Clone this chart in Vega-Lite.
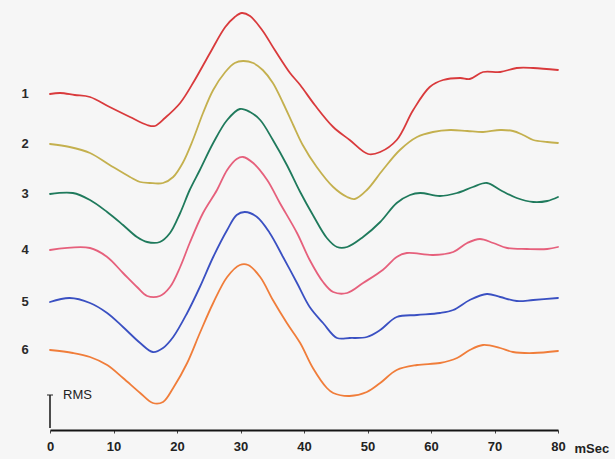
{
  "$schema": "https://vega.github.io/schema/vega-lite/v6.json",
  "autosize": {"type": "none"},
  "width": 508,
  "height": 430,
  "padding": {"left": 50, "right": 57, "top": 0, "bottom": 29},
  "background": "#f6f6f6",
  "config": {"view": {"stroke": null}, "font": "Liberation Sans"},
  "datasets": {
    "traces": [
      {"series":"1","t":0,"v":33.6},{"series":"1","t":1.6,"v":33.7},{"series":"1","t":3.9,"v":33.5},{"series":"1","t":6.3,"v":33.3},{"series":"1","t":9.4,"v":32.3},{"series":"1","t":12.6,"v":31.3},{"series":"1","t":15.3,"v":30.5},{"series":"1","t":16.5,"v":30.4},{"series":"1","t":18.1,"v":31.2},{"series":"1","t":20.5,"v":32.7},{"series":"1","t":22.8,"v":35.0},{"series":"1","t":25.2,"v":37.7},{"series":"1","t":27.6,"v":40.3},{"series":"1","t":29.1,"v":41.3},{"series":"1","t":30.2,"v":41.7},{"series":"1","t":31.5,"v":41.4},{"series":"1","t":33.4,"v":40.0},{"series":"1","t":35.4,"v":38.0},{"series":"1","t":37.8,"v":35.7},{"series":"1","t":39.4,"v":34.5},{"series":"1","t":41.7,"v":32.5},{"series":"1","t":44.6,"v":30.3},{"series":"1","t":47.2,"v":29.0},{"series":"1","t":50.1,"v":27.6},{"series":"1","t":52.0,"v":27.8},{"series":"1","t":54.6,"v":29.0},{"series":"1","t":57.2,"v":32.0},{"series":"1","t":59.8,"v":34.3},{"series":"1","t":61.9,"v":35.0},{"series":"1","t":64.6,"v":35.2},{"series":"1","t":66.1,"v":35.1},{"series":"1","t":68.2,"v":35.8},{"series":"1","t":70.9,"v":35.8},{"series":"1","t":73.5,"v":36.2},{"series":"1","t":76.1,"v":36.2},{"series":"1","t":80,"v":36.0},
      {"series":"2","t":0,"v":28.6},{"series":"2","t":3.1,"v":28.3},{"series":"2","t":6.3,"v":27.7},{"series":"2","t":9.4,"v":26.5},{"series":"2","t":12.6,"v":25.3},{"series":"2","t":14.2,"v":24.8},{"series":"2","t":15.7,"v":24.7},{"series":"2","t":17.8,"v":24.7},{"series":"2","t":19.4,"v":25.3},{"series":"2","t":20.9,"v":26.7},{"series":"2","t":22.5,"v":29.0},{"series":"2","t":24.1,"v":31.7},{"series":"2","t":25.7,"v":34.0},{"series":"2","t":27.6,"v":35.8},{"series":"2","t":29.1,"v":36.7},{"series":"2","t":30.4,"v":36.9},{"series":"2","t":32.0,"v":36.7},{"series":"2","t":33.5,"v":36.0},{"series":"2","t":35.1,"v":34.7},{"series":"2","t":36.7,"v":32.7},{"series":"2","t":38.3,"v":30.5},{"series":"2","t":39.8,"v":28.5},{"series":"2","t":42.0,"v":26.3},{"series":"2","t":44.6,"v":24.3},{"series":"2","t":46.8,"v":23.3},{"series":"2","t":48.0,"v":23.1},{"series":"2","t":49.9,"v":24.0},{"series":"2","t":52.4,"v":26.0},{"series":"2","t":55.1,"v":28.0},{"series":"2","t":57.8,"v":29.3},{"series":"2","t":60.3,"v":29.8},{"series":"2","t":63.0,"v":30.0},{"series":"2","t":65.7,"v":29.9},{"series":"2","t":68.2,"v":29.8},{"series":"2","t":70.9,"v":30.0},{"series":"2","t":72.9,"v":29.9},{"series":"2","t":74.5,"v":29.5},{"series":"2","t":76.1,"v":29.0},{"series":"2","t":78.3,"v":28.8},{"series":"2","t":80,"v":28.7},
      {"series":"3","t":0,"v":23.6},{"series":"3","t":3.6,"v":23.7},{"series":"3","t":6.3,"v":23.0},{"series":"3","t":9.0,"v":21.8},{"series":"3","t":11.5,"v":20.5},{"series":"3","t":13.7,"v":19.3},{"series":"3","t":15.3,"v":18.8},{"series":"3","t":17.3,"v":18.8},{"series":"3","t":18.9,"v":19.7},{"series":"3","t":20.5,"v":21.7},{"series":"3","t":22.0,"v":24.0},{"series":"3","t":23.6,"v":26.0},{"series":"3","t":25.7,"v":28.7},{"series":"3","t":27.9,"v":31.0},{"series":"3","t":29.9,"v":32.1},{"series":"3","t":31.5,"v":31.8},{"series":"3","t":33.1,"v":31.0},{"series":"3","t":35.1,"v":29.0},{"series":"3","t":37.3,"v":26.5},{"series":"3","t":39.4,"v":23.8},{"series":"3","t":41.4,"v":21.5},{"series":"3","t":43.6,"v":19.2},{"series":"3","t":45.2,"v":18.3},{"series":"3","t":46.8,"v":18.3},{"series":"3","t":49.3,"v":19.3},{"series":"3","t":52.0,"v":20.8},{"series":"3","t":54.6,"v":22.7},{"series":"3","t":56.7,"v":23.5},{"series":"3","t":58.3,"v":23.7},{"series":"3","t":61.4,"v":23.4},{"series":"3","t":64.1,"v":23.7},{"series":"3","t":66.6,"v":24.3},{"series":"3","t":68.8,"v":24.7},{"series":"3","t":70.9,"v":24.0},{"series":"3","t":73.5,"v":23.2},{"series":"3","t":76.1,"v":22.8},{"series":"3","t":78.3,"v":22.9},{"series":"3","t":80,"v":23.3},
      {"series":"4","t":0,"v":18.0},{"series":"4","t":6.3,"v":18.2},{"series":"4","t":9.0,"v":17.3},{"series":"4","t":11.5,"v":15.7},{"series":"4","t":13.7,"v":14.3},{"series":"4","t":15.3,"v":13.4},{"series":"4","t":17.3,"v":13.4},{"series":"4","t":18.9,"v":14.3},{"series":"4","t":20.5,"v":16.3},{"series":"4","t":22.0,"v":18.7},{"series":"4","t":24.1,"v":21.7},{"series":"4","t":26.3,"v":24.0},{"series":"4","t":27.9,"v":26.0},{"series":"4","t":29.4,"v":27.1},{"series":"4","t":30.4,"v":27.3},{"series":"4","t":32.0,"v":26.7},{"series":"4","t":34.2,"v":25.0},{"series":"4","t":36.2,"v":22.7},{"series":"4","t":38.9,"v":19.7},{"series":"4","t":40.9,"v":17.0},{"series":"4","t":43.0,"v":14.8},{"series":"4","t":44.6,"v":13.8},{"series":"4","t":46.8,"v":13.7},{"series":"4","t":49.3,"v":14.7},{"series":"4","t":52.4,"v":16.0},{"series":"4","t":54.6,"v":17.3},{"series":"4","t":56.2,"v":17.7},{"series":"4","t":60.3,"v":17.5},{"series":"4","t":63.5,"v":17.8},{"series":"4","t":65.7,"v":18.7},{"series":"4","t":67.7,"v":19.1},{"series":"4","t":69.8,"v":18.7},{"series":"4","t":72.0,"v":18.2},{"series":"4","t":75.1,"v":18.1},{"series":"4","t":78.3,"v":18.1},{"series":"4","t":80,"v":18.3},
      {"series":"5","t":0,"v":12.8},{"series":"5","t":3.1,"v":13.2},{"series":"5","t":6.3,"v":12.7},{"series":"5","t":9.0,"v":11.7},{"series":"5","t":11.5,"v":10.3},{"series":"5","t":14.2,"v":8.7},{"series":"5","t":16.2,"v":7.8},{"series":"5","t":17.8,"v":8.2},{"series":"5","t":19.4,"v":9.3},{"series":"5","t":21.6,"v":11.7},{"series":"5","t":23.6,"v":14.3},{"series":"5","t":25.7,"v":17.3},{"series":"5","t":27.9,"v":20.0},{"series":"5","t":29.4,"v":21.5},{"series":"5","t":30.7,"v":21.8},{"series":"5","t":32.6,"v":21.3},{"series":"5","t":34.6,"v":19.7},{"series":"5","t":36.7,"v":17.3},{"series":"5","t":38.9,"v":14.7},{"series":"5","t":40.9,"v":12.3},{"series":"5","t":43.0,"v":10.7},{"series":"5","t":45.2,"v":9.2},{"series":"5","t":47.2,"v":9.2},{"series":"5","t":49.9,"v":9.3},{"series":"5","t":52.0,"v":10.0},{"series":"5","t":54.6,"v":11.3},{"series":"5","t":57.8,"v":11.5},{"series":"5","t":61.4,"v":11.7},{"series":"5","t":63.5,"v":12.0},{"series":"5","t":66.1,"v":13.0},{"series":"5","t":68.8,"v":13.6},{"series":"5","t":70.9,"v":13.3},{"series":"5","t":73.5,"v":12.9},{"series":"5","t":76.1,"v":13.0},{"series":"5","t":80,"v":13.2},
      {"series":"6","t":0,"v":8.0},{"series":"6","t":3.6,"v":7.7},{"series":"6","t":6.3,"v":7.3},{"series":"6","t":9.0,"v":6.5},{"series":"6","t":11.5,"v":5.2},{"series":"6","t":14.2,"v":3.7},{"series":"6","t":16.2,"v":2.7},{"series":"6","t":17.8,"v":2.8},{"series":"6","t":19.4,"v":4.2},{"series":"6","t":21.6,"v":6.7},{"series":"6","t":23.6,"v":9.7},{"series":"6","t":25.7,"v":12.7},{"series":"6","t":27.9,"v":15.3},{"series":"6","t":29.9,"v":16.5},{"series":"6","t":31.2,"v":16.5},{"series":"6","t":33.1,"v":15.3},{"series":"6","t":35.1,"v":13.0},{"series":"6","t":37.3,"v":10.7},{"series":"6","t":39.4,"v":8.7},{"series":"6","t":41.4,"v":6.2},{"series":"6","t":43.6,"v":4.2},{"series":"6","t":44.6,"v":3.7},{"series":"6","t":47.2,"v":3.4},{"series":"6","t":49.9,"v":3.8},{"series":"6","t":52.0,"v":4.7},{"series":"6","t":54.6,"v":6.0},{"series":"6","t":57.8,"v":6.5},{"series":"6","t":61.4,"v":6.7},{"series":"6","t":64.1,"v":7.2},{"series":"6","t":66.1,"v":8.0},{"series":"6","t":68.2,"v":8.5},{"series":"6","t":70.9,"v":8.2},{"series":"6","t":72.9,"v":7.8},{"series":"6","t":76.1,"v":7.7},{"series":"6","t":80,"v":7.9}
    ],
    "scalebar": [{"label": "RMS", "t": 0, "v0": 0.2, "v1": 3.5}]
  },
  "layer": [
    {
      "data": {"name": "traces"},
      "mark": {"type": "line", "interpolate": "catmull-rom", "strokeCap": "round", "strokeJoin": "round"},
      "encoding": {
        "x": {
          "field": "t", "type": "quantitative",
          "scale": {"domain": [0, 80], "nice": false, "zero": false},
          "axis": {
            "values": [0, 10, 20, 30, 40, 50, 60, 70, 80],
            "grid": false,
            "domainColor": "#151515", "domainWidth": 2,
            "tickColor": "#444", "tickSize": 3, "tickWidth": 1,
            "labelFontSize": 13, "labelFontWeight": "bold", "labelColor": "#222",
            "labelPadding": 7, "labelFlush": false,
            "title": "mSec", "titleFontSize": 13, "titleFontWeight": "bold", "titleColor": "#222",
            "titleAngle": 0, "titleAlign": "left", "titleBaseline": "middle",
            "titleX": 524, "titleY": 18
          }
        },
        "y": {"field": "v", "type": "quantitative", "scale": {"domain": [0, 43], "nice": false, "zero": false}, "axis": null},
        "color": {
          "field": "series", "type": "nominal", "legend": null,
          "scale": {"domain": ["1","2","3","4","5","6"], "range": ["#d93a3c", "#c4b04e", "#1f7a5c", "#e6607c", "#3a50c2", "#f07d3a"]}
        },
        "strokeWidth": {
          "field": "series", "type": "nominal", "legend": null,
          "scale": {"domain": ["1","2","3","4","5","6"], "range": [1.8, 1.8, 2.6, 1.7, 2.2, 1.8]}
        },
        "detail": {"field": "series"}
      }
    },
    {
      "data": {"name": "traces"},
      "transform": [{"filter": "datum.t == 0"}],
      "mark": {"type": "text", "dx": -25, "align": "center", "baseline": "middle", "fontSize": 13, "fontWeight": "bold", "color": "#2a2a2a"},
      "encoding": {
        "x": {"field": "t", "type": "quantitative"},
        "y": {"field": "v", "type": "quantitative"},
        "text": {"field": "series"}
      }
    },
    {
      "data": {"name": "scalebar"},
      "mark": {"type": "rule", "color": "#222", "strokeWidth": 1.6},
      "encoding": {
        "x": {"field": "t", "type": "quantitative"},
        "y": {"field": "v0", "type": "quantitative"},
        "y2": {"field": "v1"}
      }
    },
    {
      "data": {"name": "scalebar"},
      "mark": {"type": "tick", "color": "#222", "orient": "horizontal", "size": 6, "thickness": 1.4},
      "encoding": {
        "x": {"field": "t", "type": "quantitative"},
        "y": {"field": "v1", "type": "quantitative"}
      }
    },
    {
      "data": {"name": "scalebar"},
      "mark": {"type": "text", "align": "left", "baseline": "middle", "dx": 13, "fontSize": 13, "color": "#222"},
      "encoding": {
        "x": {"field": "t", "type": "quantitative"},
        "y": {"field": "v1", "type": "quantitative"},
        "text": {"field": "label"}
      }
    }
  ]
}
